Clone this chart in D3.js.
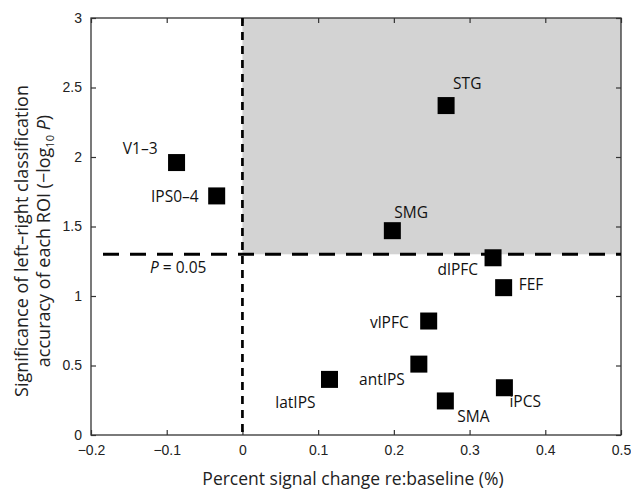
<!DOCTYPE html>
<html>
  <head>
    <meta charset="utf-8">
    <script src="https://d3js.org/d3.v7.min.js"></script>
    <style>
      body { margin: 0; background: #fff; font-family: "Open Sans", sans-serif; }
      .tick text { font-size: 14px; fill: #222; }
      .roi { font-size: 15.5px; fill: #111; }
    </style>
  </head>
  <body>
    <div id="chart"></div>
    <script>
      // ROI values
      var rois    = ["V1\u20133", "IPS0\u20134", "STG", "SMG", "dlPFC", "FEF", "vlPFC", "antIPS", "latIPS", "SMA", "iPCS"]
      var signal  = [-0.087, -0.034, 0.269, 0.198, 0.331, 0.345, 0.246, 0.233, 0.115, 0.268, 0.346]
      var signif  = [1.96, 1.72, 2.37, 1.47, 1.275, 1.06, 0.82, 0.51, 0.40, 0.245, 0.34]
      var xTicks  = [-0.2, -0.1, 0, 0.1, 0.2, 0.3, 0.4, 0.5]
      var yTicks  = [0, 0.5, 1, 1.5, 2, 2.5, 3]
      var pThresh = 1.3   // -log10(0.05)

      // label placement next to each marker: dx, dy, anchor
      var labelPos = {
        "V1\u20133": [-19, -9, "end"], "IPS0\u20134": [-18, 6, "end"], "STG": [7, -17, "start"],
        "SMG": [2, -13, "start"], "dlPFC": [-15, 17, "end"], "FEF": [15, 2, "start"],
        "vlPFC": [-20, 7, "end"], "antIPS": [-14, 21, "end"], "latIPS": [-14, 29, "end"],
        "SMA": [12, 21, "start"], "iPCS": [5, 19, "start"]
      }

      var W = 631, H = 489
      var m = {left: 91, right: 10, top: 18, bottom: 54}
      var w = W - m.left - m.right, h = H - m.top - m.bottom

      var svg = d3.select("#chart").append("svg").attr("width", W).attr("height", H)
      var g = svg.append("g").attr("transform", "translate(" + m.left + "," + m.top + ")")

      var x = d3.scaleLinear().domain([-0.2, 0.5]).range([0, w])
      var y = d3.scaleLinear().domain([0, 3]).range([h, 0])

      // shaded quadrant
      g.append("rect")
        .attr("x", x(0)).attr("y", y(3))
        .attr("width", x(0.5) - x(0)).attr("height", y(pThresh) - y(3))
        .attr("fill", "#d3d3d3")

      var fmt = function(d){ return d == 0 ? "0" : d3.format(".1f")(d).replace("-", "\u2212") }
      var fmtY = function(d){ return d3.format("~g")(d) }

      var xa = g.append("g").attr("transform", "translate(0," + h + ")")
        .call(d3.axisBottom(x).tickValues(xTicks).tickSize(-5).tickPadding(10).tickFormat(fmt))
      var xt = g.append("g").call(d3.axisTop(x).tickValues(xTicks).tickSize(-5).tickFormat(""))
      var ya = g.append("g")
        .call(d3.axisLeft(y).tickValues(yTicks).tickSize(-5).tickPadding(9).tickFormat(fmtY))
      var yr = g.append("g").attr("transform", "translate(" + w + ",0)")
        .call(d3.axisRight(y).tickValues(yTicks).tickSize(-5).tickFormat(""))
      ;[xa, xt, ya, yr].forEach(function(a){
        a.select(".domain").remove()
        a.selectAll(".tick line").attr("stroke", "#333").attr("stroke-width", 1.2)
      })

      // frame
      g.append("rect").attr("width", w).attr("height", h)
        .attr("fill", "none").attr("stroke", "#333").attr("stroke-width", 1.3)

      // threshold lines
      g.append("line")
        .attr("x1", x(-0.2) + 12).attr("x2", w).attr("y1", y(pThresh)).attr("y2", y(pThresh))
        .attr("stroke", "#000").attr("stroke-width", 3).attr("stroke-dasharray", "16,11")
      g.append("line")
        .attr("x1", x(0)).attr("x2", x(0)).attr("y1", 0).attr("y2", h)
        .attr("stroke", "#000").attr("stroke-width", 2.7).attr("stroke-dasharray", "8,6")

      var pt = g.append("text").attr("class", "roi")
        .attr("x", x(-0.2) + 59).attr("y", y(pThresh) + 19)
      pt.append("tspan").attr("font-style", "italic").text("P")
      pt.append("tspan").text(" = 0.05")

      // markers
      var s = 17
      var data = rois.map(function(r, i){ return {name: r, x: signal[i], y: signif[i]} })
      g.selectAll(".pt").data(data).enter().append("rect")
        .attr("x", function(d){ return x(d.x) - s / 2 })
        .attr("y", function(d){ return y(d.y) - s / 2 })
        .attr("width", s).attr("height", s).attr("fill", "#000")

      g.selectAll(".lab").data(data).enter().append("text").attr("class", "roi")
        .attr("x", function(d){ return x(d.x) + labelPos[d.name][0] })
        .attr("y", function(d){ return y(d.y) + labelPos[d.name][1] })
        .attr("text-anchor", function(d){ return labelPos[d.name][2] })
        .text(function(d){ return d.name })

      // axis titles
      svg.append("text").attr("x", 353).attr("y", 485)
        .attr("text-anchor", "middle").attr("font-size", 17.5).attr("fill", "#222")
        .text("Percent signal change re:baseline (%)")
      var yt = svg.append("text").attr("transform", "translate(28,241) rotate(-90)")
        .attr("text-anchor", "middle").attr("font-size", 18).attr("fill", "#222")
      yt.append("tspan").attr("x", 0).attr("dy", 0).text("Significance of left\u2013right classification")
      var l2 = yt.append("tspan").attr("x", 0).attr("dy", 22)
      l2.append("tspan").text("accuracy of each ROI (\u2212log")
      l2.append("tspan").attr("font-size", 11).attr("dy", 4).text("10")
      l2.append("tspan").attr("dy", -4).text(" ")
      l2.append("tspan").attr("font-style", "italic").text("P")
      l2.append("tspan").text(")")
    </script>
  </body>
</html>
